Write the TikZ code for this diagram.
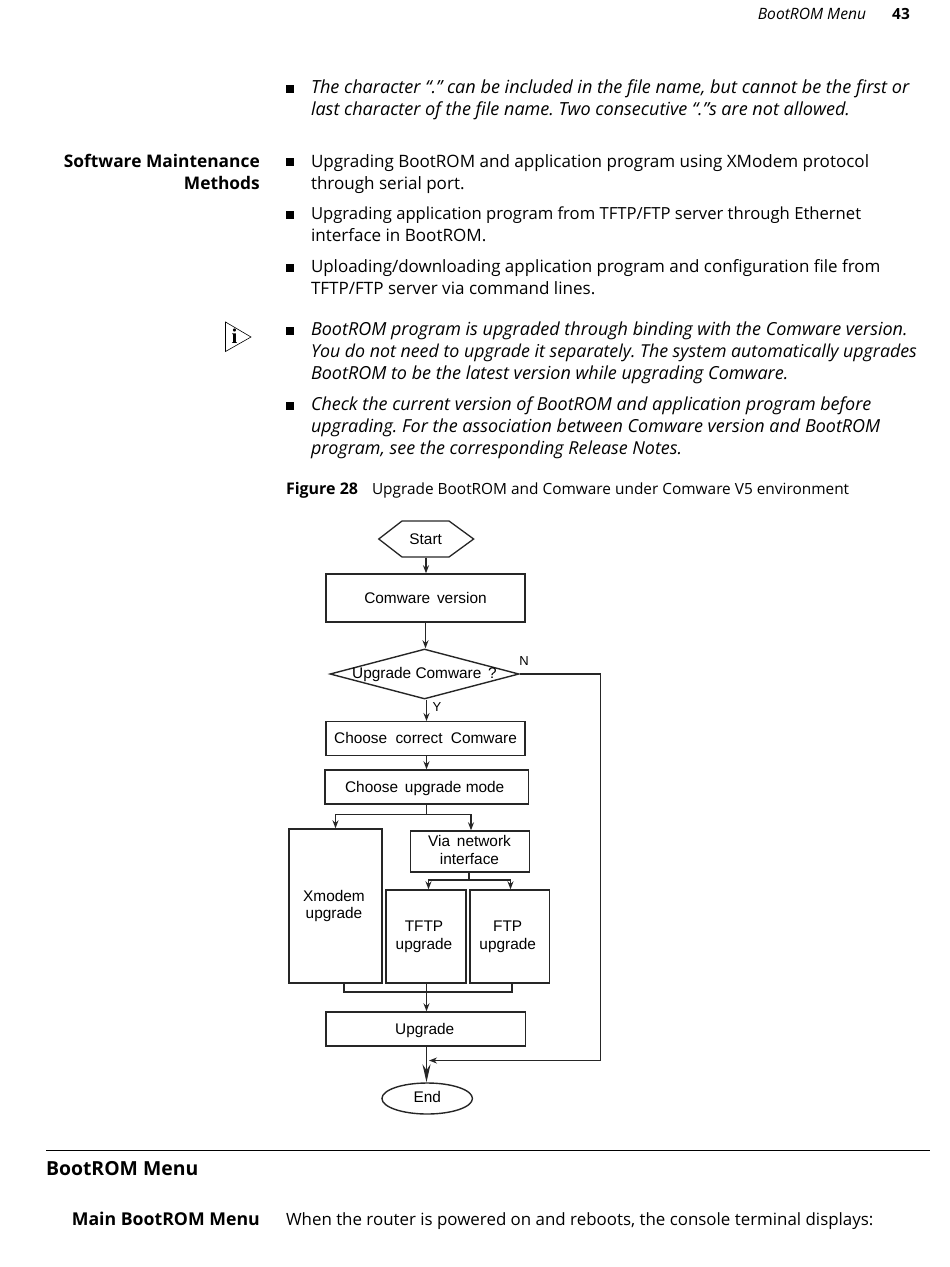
\documentclass[tikz,border=0pt]{standalone}
\usepackage{fontspec}
\setmainfont{Open Sans}
\newfontfamily\flowfont{Liberation Sans}
\newfontfamily\iconfont{Liberation Serif}
\usetikzlibrary{shapes.geometric,arrows.meta}
\frenchspacing
\tikzset{
 x=1pt,y=-1pt,
 body/.style={anchor=base west,inner sep=0,outer sep=0,font=\fontsize{17.05}{18}\selectfont},
 ibody/.style={body,font=\fontsize{18}{18}\selectfont\itshape},
 bhead/.style={anchor=base east,inner sep=0,font=\fontsize{17.35}{18}\selectfont\bfseries},
 bul/.style={fill=black,inner sep=0,minimum width=7.5,minimum height=7.5,anchor=center},
 fbox/.style={draw=black!85,line width=1.4,inner sep=0,align=center,font=\flowfont\fontsize{15.4}{18}\selectfont},
 flabel/.style={inner sep=0,font=\flowfont\fontsize{13}{15}\selectfont},
 line/.style={draw=black!85,line width=1.5},
 arr/.style={line,-{Stealth[length=8,width=6]}},
 bigarr/.style={line,line width=1.7,-{Stealth[length=18,width=8]}},
}
\begin{document}
\begin{tikzpicture}
\useasboundingbox (0,0) rectangle (950,1267);
% header
\node[ibody,anchor=base east,font=\fontsize{15.6}{18}\selectfont\itshape] (hd) at (866,19) {BootROM Menu};
\node[bhead,font=\fontsize{15.4}{18}\selectfont\bfseries] (pg) at (910,19) {43};
% text
\node[bul] (b1) at (290,89) {};
\node[ibody,font=\fontsize{18.08}{18}\selectfont\itshape] (t1) at (311,93) {The character “.” can be included in the file name, but cannot be the first or};
\node[ibody,font=\fontsize{18.05}{18}\selectfont\itshape] (t1b) at (311,115) {last character of the file name. Two consecutive “.”s are not allowed.};
\node[bhead] (h1) at (260,167) {Software Maintenance};
\node[bhead] (h1b) at (260,189) {Methods};
\node[bul] (b2) at (290,162) {};
\node[body] (t2) at (311,167) {Upgrading BootROM and application program using XModem protocol};
\node[body] (t2b) at (311,189) {through serial port.};
\node[bul] (b3) at (290,215) {};
\node[body,font=\fontsize{16.65}{18}\selectfont] (t3) at (311,219.5) {Upgrading application program from TFTP/FTP server through Ethernet};
\node[body] (t3b) at (311,241.5) {interface in BootROM.};
\node[bul] (b4) at (290,268) {};
\node[body,font=\fontsize{16.96}{18}\selectfont] (t4) at (311,272.5) {Uploading/downloading application program and configuration file from};
\node[body] (t4b) at (311,294.5) {TFTP/FTP server via command lines.};
\node[bul] (b5) at (290,331) {};
\node[ibody] (t5) at (311,335.5) {BootROM program is upgraded through binding with the Comware version.};
\node[ibody,font=\fontsize{17.8}{18}\selectfont\itshape] (t5b) at (311,357.5) {You do not need to upgrade it separately. The system automatically upgrades};
\node[ibody] (t5c) at (311,379.5) {BootROM to be the latest version while upgrading Comware.};
\node[bul] (b6) at (290,406) {};
\node[ibody,font=\fontsize{17.95}{18}\selectfont\itshape] (t6) at (311,410.5) {Check the current version of BootROM and application program before};
\node[ibody,font=\fontsize{17.97}{18}\selectfont\itshape] (t6b) at (311,432.5) {upgrading. For the association between Comware version and BootROM};
\node[ibody,font=\fontsize{17.9}{18}\selectfont\itshape] (t6c) at (311,454.5) {program, see the corresponding Release Notes.};
% note icon
\draw[line width=0.6] (225.5,322) -- (251,337) -- (225.5,351.5) -- cycle;
\node[inner sep=0,font=\iconfont\fontsize{21}{21}\selectfont\bfseries] (ic) at (234.5,336.5) {i};
% caption
\node[body,font=\fontsize{16}{16}\selectfont\bfseries] (cap) at (286,494) {Figure 28};
\node[body,font=\fontsize{15.4}{16}\selectfont] (capt) at (372,494) {Upgrade BootROM and Comware under Comware V5 environment};
% flowchart
\node[fbox,draw=none,minimum width=93.5,minimum height=36] (start) at (426.2,539) {\hspace*{-1pt}Start};
\draw[line width=1.3,draw=black!85] (start.west) -- (402,521) -- (449,521) -- (start.east) -- (449,557) -- (402,557) -- cycle;
\node[fbox,minimum width=199,minimum height=48,text height=12pt,text depth=2pt] (cv) at (425.5,598) {Comware\;\,version};
\node[fbox,diamond,aspect=3.78,minimum width=189,minimum height=50,text height=11pt,text depth=2pt] (dec) at (424.5,674) {\makebox[0pt]{Upgrade Comware\, ?}};
\node[fbox,minimum width=199,minimum height=33.5,text height=11pt,text depth=2pt] (cc) at (425.5,738.5) {Choose\;\,\hspace{1.5pt}correct\;\,\hspace{1.5pt}Comware};
\node[fbox,minimum width=203.5,minimum height=34,text height=13pt,text depth=2pt] (cm) at (426.7,787) {\hspace*{-4pt}Choose\, upgrade mode};
\node[fbox,minimum width=93,minimum height=154] (xm) at (335.5,906) {\hspace*{-3pt}Xmodem\\[-0.5pt]\hspace*{-3pt}upgrade};
\node[fbox,minimum width=119,minimum height=41] (via) at (470,851.5) {\hspace*{-1pt}Via\;\,network\\\hspace*{-1pt}interface\\[-14pt]};
\node[fbox,minimum width=80,minimum height=93] (tftp) at (426,936.5) {\hspace*{-4pt}TFTP\\\hspace*{-4pt}upgrade};
\node[fbox,minimum width=79.5,minimum height=93] (ftp) at (509.7,936.5) {\hspace*{-4pt}FTP\\\hspace*{-4pt}upgrade};
\node[fbox,minimum width=199.5,minimum height=34,text height=13pt,text depth=2pt] (up) at (425.7,1029) {\hspace*{-2pt}Upgrade};
\node[fbox,ellipse,minimum width=90.5,minimum height=31,text height=11pt,text depth=3pt] (end) at (427.2,1098.5) {End};
\node[flabel] (ln) at (524,661) {N};
\node[flabel] (ly) at (437,707) {Y};
% connector waypoints
\coordinate (a1) at (426,557);
\coordinate (a2) at (425.5,649);
\coordinate (a3) at (426.5,722);
\coordinate (a4) at (426.5,770);
\coordinate (a5) at (426.5,814.5);
\coordinate (a6) at (335.5,814.5);
\coordinate (a7) at (471,814.5);
\coordinate (a8) at (469,880);
\coordinate (a9) at (428.5,880);
\coordinate (a10) at (510.5,880);
\coordinate (a11) at (344,992);
\coordinate (a12) at (512,992);
\coordinate (a13) at (426.5,992);
\coordinate (a14) at (600.5,674);
\coordinate (a15) at (600.5,1060.5);
\coordinate (a16) at (429,1060.5);
\draw[arr] (start.south -| a1) -- (cv.north -| a1);
\draw[arr] (cv.south -| a2) -- (dec.north -| a2);
\draw[arr] (dec.south -| a3) -- (cc.north -| a3);
\draw[arr] (cc.south -| a4) -- (cm.north -| a4);
\draw[line] (cm.south -| a5) -- (a5);
\draw[arr] (a5) -- (a6) -- (xm.north -| a6);
\draw[arr] (a5) -- (a7) -- (via.north -| a7);
\draw[line] (via.south -| a8) -- (a8);
\draw[arr] (a8) -- (a9) -- (tftp.north -| a9);
\draw[arr] (a8) -- (a10) -- (ftp.north -| a10);
\draw[line] (xm.south -| a11) -- (a11) -- (a12) -- (ftp.south -| a12);
\draw[arr] (tftp.south -| a13) -- (up.north -| a13);
\draw[bigarr] (up.south -| a13) -- (end.north -| a13);
\draw[arr] (dec.east) -- (a14) -- (a15) -- (a16);
% bottom section
\draw[line width=1] (46,1150) -- (930,1150);
\node[body,font=\fontsize{19.4}{20}\selectfont\bfseries] (h2) at (46,1175) {BootROM Menu};
\node[bhead,font=\fontsize{17.7}{18}\selectfont\bfseries] (h3) at (260,1225) {Main BootROM Menu};
\node[body,font=\fontsize{16.9}{18}\selectfont] (t7) at (286,1225) {When the router is powered on and reboots, the console terminal displays:};
\end{tikzpicture}
\end{document}
